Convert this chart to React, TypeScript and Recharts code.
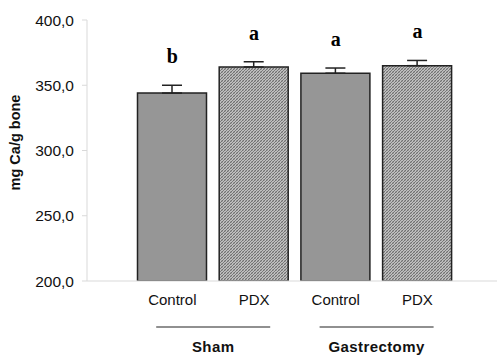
import React from "react";
import {
  BarChart,
  Bar,
  XAxis,
  YAxis,
  ErrorBar,
  Cell,
  ReferenceDot,
  Label,
} from "recharts";

// ---- data ----
const ids = ["sham-control", "sham-pdx", "gas-control", "gas-pdx"];
const categories = ["Control", "PDX", "Control", "PDX"];
const groups = ["Sham", "Sham", "Gastrectomy", "Gastrectomy"];
const treatments = ["control", "pdx", "control", "pdx"];
const means = [344, 364, 359.2, 365];
const errors = [6, 4, 4, 4];
const letters = ["b", "a", "a", "a"];
const yTicks = [200, 250, 300, 350, 400];
const yLabel = "mg Ca/g bone";

const data = ids.map((id, i) => ({
  id,
  category: categories[i],
  group: groups[i],
  treatment: treatments[i],
  mean: means[i],
  err: [0, errors[i]],
  top: means[i] + errors[i],
  letter: letters[i],
}));

const SANS = "'Liberation Sans', Arial, sans-serif";
const SERIF = "'Liberation Serif', 'Times New Roman', serif";
const AXIS_GRAY = "#d9d9d9";

const fillFor = (t: string) => (t === "pdx" ? "url(#hatch)" : "#969696");

const GroupTick = (props: any) => {
  const { x, y, payload } = props;
  return (
    <g>
      <line x1={x - 57} x2={x + 57} y1={y + 16} y2={y + 16} stroke="#222" strokeWidth={1.2} />
      <text
        x={x}
        y={y + 41}
        textAnchor="middle"
        fontFamily={SANS}
        fontWeight="bold"
        fontSize={15}
        letterSpacing={0.4}
        fill="#111"
      >
        {payload.value}
      </text>
    </g>
  );
};

const YTitle = (props: any) => {
  const vb = props.viewBox || { x: 0, y: 20, width: 87, height: 261 };
  const cx = vb.x + 20;
  const cy = vb.y + vb.height / 2 - 8;
  return (
    <text
      x={cx}
      y={cy}
      transform={`rotate(-90, ${cx}, ${cy})`}
      textAnchor="middle"
      fontFamily={SANS}
      fontWeight="bold"
      fontSize={14.5}
      fill="#111"
    >
      {yLabel}
    </text>
  );
};

export default function App() {
  return (
    <div style={{ position: "absolute", left: 0, top: 0, background: "#fff" }}>
      <BarChart
        width={497}
        height={356}
        data={data}
        margin={{ top: 20, right: 0, bottom: 0, left: 0 }}
      >
        <defs>
          <pattern id="hatch" patternUnits="userSpaceOnUse" width="3" height="3">
            <rect width="3" height="3" fill="#c0c0c0" />
            <path d="M0,3 L3,0 M-1,1 L1,-1 M2,4 L4,2" stroke="#666" strokeWidth="0.9" />
            <path d="M0,0 L3,3" stroke="#888" strokeWidth="0.5" />
          </pattern>
        </defs>
        <XAxis
          xAxisId={0}
          dataKey="id"
          tickFormatter={(v: string) => categories[ids.indexOf(v)]}
          padding={{ left: 44.5, right: 38.7 }}
          height={30}
          tickLine={false}
          tickSize={0}
          tickMargin={13}
          axisLine={{ stroke: AXIS_GRAY }}
          tick={{ fontFamily: SANS, fontSize: 15, fill: "#111" }}
          interval={0}
        />
        <XAxis
          xAxisId={1}
          dataKey="group"
          allowDuplicatedCategory={false}
          padding={{ left: 44.5, right: 38.7 }}
          height={45}
          tickLine={false}
          axisLine={false}
          tickSize={0}
          tickMargin={0}
          tick={<GroupTick />}
          interval={0}
        />
        <YAxis
          width={87}
          domain={[200, 400]}
          ticks={yTicks}
          tickFormatter={(v: number) => v.toFixed(1).replace(".", ",")}
          axisLine={{ stroke: AXIS_GRAY }}
          tickLine={{ stroke: AXIS_GRAY }}
          tickSize={5}
          tickMargin={8}
          tick={{ fontFamily: SANS, fontSize: 15.5, fill: "#111" }}
          allowDataOverflow
          label={<Label content={<YTitle />} />}
        />
        <Bar
          xAxisId={0}
          dataKey="mean"
          barSize={69}
          stroke="#222"
          strokeWidth={1.5}
          isAnimationActive={false}
        >
          {data.map((d) => (
            <Cell key={d.id} fill={fillFor(d.treatment)} />
          ))}
          <ErrorBar
            dataKey="err"
            width={10}
            stroke="#222"
            strokeWidth={1.5}
            direction="y"
            isAnimationActive={false}
          />
        </Bar>
        {data.map((d) => (
          <ReferenceDot
            key={"lbl-" + d.id}
            xAxisId={0}
            x={d.id}
            y={d.top}
            r={1}
            fill="none"
            stroke="none"
            label={
              <Label
                value={d.letter}
                position="top"
                offset={21}
                fontFamily={SERIF}
                fontWeight="bold"
                fontSize={20}
                fill="#000"
              />
            }
          />
        ))}
      </BarChart>
    </div>
  );
}
